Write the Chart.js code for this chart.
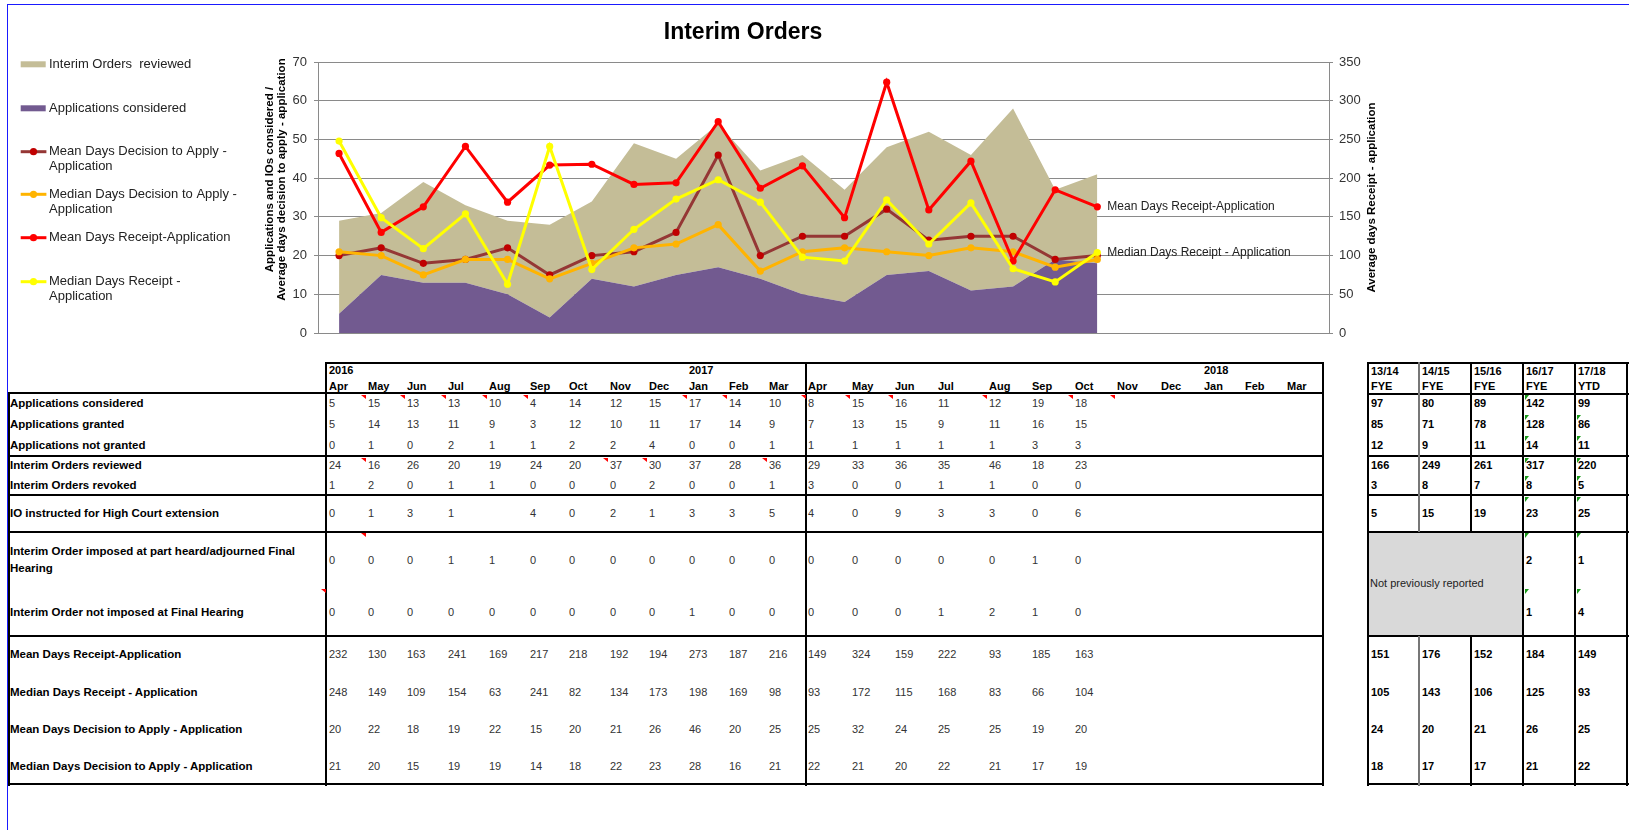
<!DOCTYPE html>
<html><head><meta charset="utf-8">
<script src="https://cdn.jsdelivr.net/npm/chart.js@4.4.1/dist/chart.umd.min.js"></script>
<style>
html,body{margin:0;padding:0;background:#fff;}
body{width:1629px;height:830px;position:relative;overflow:hidden;font-family:"Liberation Sans",Arial,sans-serif;}
#frameTop{position:absolute;left:7px;top:4px;width:1622px;height:1px;background:#1a1aff;}
#frameLeft{position:absolute;left:7px;top:4px;width:1px;height:826px;background:#1a1aff;}
#chartBox{position:absolute;left:8px;top:4px;width:1470px;height:345px;}
.t{position:absolute;font-size:11px;line-height:14px;white-space:nowrap;color:#333;}
.b{font-weight:bold;color:#000;}
.lab{font-size:11.5px;}
.ln{position:absolute;background:#000;}
.red{position:absolute;width:0;height:0;border-top:4px solid #ff0000;border-left:5px solid transparent;}
.grn{position:absolute;width:0;height:0;border-top:5px solid #1a9a1a;border-right:4px solid transparent;}
</style>
</head>
<body>
<div id="frameTop"></div><div id="frameLeft"></div>
<div id="chartBox"><canvas id="c" width="1470" height="345"></canvas></div>
<script>
// ---------- data ----------
const monthLabels = ['Apr','May','Jun','Jul','Aug','Sep','Oct','Nov','Dec','Jan','Feb','Mar','Apr','May','Jun','Jul','Aug','Sep','Oct','Nov','Dec','Jan','Feb','Mar'];
const yearLabels = ['2016','2017','2018'];
const yearStartIndex = [0, 9, 21];

const appsConsidered   = [5,15,13,13,10,4,14,12,15,17,14,10,8,15,16,11,12,19,18];
const appsGranted      = [5,14,13,11,9,3,12,10,11,17,14,9,7,13,15,9,11,16,15];
const appsNotGranted   = [0,1,0,2,1,1,2,2,4,0,0,1,1,1,1,1,1,3,3];
const ioReviewed       = [24,16,26,20,19,24,20,37,30,37,28,36,29,33,36,35,46,18,23];
const ioRevoked        = [1,2,0,1,1,0,0,0,2,0,0,1,3,0,0,1,1,0,0];
const ioHighCourt      = [0,1,3,1,null,4,0,2,1,3,3,5,4,0,9,3,3,0,6];
const ioImposedPartHeard = [0,0,0,1,1,0,0,0,0,0,0,0,0,0,0,0,0,1,0];
const ioNotImposedFinal  = [0,0,0,0,0,0,0,0,0,1,0,0,0,0,0,1,2,1,0];
const meanReceipt      = [232,130,163,241,169,217,218,192,194,273,187,216,149,324,159,222,93,185,163];
const medianReceipt    = [248,149,109,154,63,241,82,134,173,198,169,98,93,172,115,168,83,66,104];
const meanDecision     = [20,22,18,19,22,15,20,21,26,46,20,25,25,32,24,25,25,19,20];
const medianDecision   = [21,20,15,19,19,14,18,22,23,28,16,21,22,21,20,22,21,17,19];

const fyeHeaders = [['13/14','FYE'],['14/15','FYE'],['15/16','FYE'],['16/17','FYE'],['17/18','YTD']];
const fyeAppsConsidered = [97,80,89,142,99];
const fyeAppsGranted    = [85,71,78,128,86];
const fyeAppsNotGranted = [12,9,11,14,11];
const fyeReviewed       = [166,249,261,317,220];
const fyeRevoked        = [3,8,7,8,5];
const fyeHighCourt      = [5,15,19,23,25];
const fyeImposed        = [null,null,null,2,1];
const fyeNotImposed     = [null,null,null,1,4];
const fyeMeanReceipt    = [151,176,152,184,149];
const fyeMedianReceipt  = [105,143,106,125,93];
const fyeMeanDecision   = [24,20,21,26,25];
const fyeMedianDecision = [18,17,17,21,22];

const rowLabels = ['Applications considered','Applications granted','Applications not granted','Interim Orders  reviewed','Interim Orders revoked','IO instructed for High Court extension','Interim Order imposed at part heard/adjourned Final Hearing','Interim Order not imposed at Final Hearing','Mean Days Receipt-Application','Median Days Receipt - Application','Mean Days Decision to Apply - Application','Median Days Decision to Apply - Application'];
const rowMonthly = [appsConsidered,appsGranted,appsNotGranted,ioReviewed,ioRevoked,ioHighCourt,ioImposedPartHeard,ioNotImposedFinal,meanReceipt,medianReceipt,meanDecision,medianDecision];
const rowFye = [fyeAppsConsidered,fyeAppsGranted,fyeAppsNotGranted,fyeReviewed,fyeRevoked,fyeHighCourt,fyeImposed,fyeNotImposed,fyeMeanReceipt,fyeMedianReceipt,fyeMeanDecision,fyeMedianDecision];

const categories = monthLabels.map((m,i)=> m + ' ' + (i < 9 ? '2016' : (i < 21 ? '2017' : '2018')));

// ---------- chart ----------
const FONT = '"Liberation Sans", Arial, sans-serif';
const C_TAN='#C4BD97', C_PURPLE='#725A90', C_MEANDEC='#953735', C_MEANDEC_PT='#C00000', C_MEDDEC='#FFB400', C_MEANREC='#FF0000', C_MEDREC='#FFFF00';

function lineDs(label, data, axis, stack, color, ptColor){
  return {label, data, yAxisID:axis, stack, borderColor:color, backgroundColor:ptColor||color,
    pointBackgroundColor:ptColor||color, pointBorderColor:ptColor||color, pointBorderWidth:0,
    pointRadius:3.6, pointHoverRadius:3.6, borderWidth:3, tension:0, fill:false};
}
const datasets = [
  lineDs('Median Days Receipt - Application', medianReceipt, 'y2', 'r1', C_MEDREC),
  lineDs('Mean Days Receipt-Application', meanReceipt, 'y2', 'r2', C_MEANREC),
  lineDs('Median Days Decision to Apply - Application', medianDecision, 'y', 'd1', C_MEDDEC),
  lineDs('Mean Days Decision to Apply - Application', meanDecision, 'y', 'd2', C_MEANDEC, C_MEANDEC_PT),
  {label:'Applications considered', data:appsConsidered, yAxisID:'y', stack:'areas', fill:'origin',
   backgroundColor:C_PURPLE, borderColor:'rgba(0,0,0,0)', borderWidth:0, pointRadius:0, tension:0},
  {label:'Interim Orders  reviewed', data:ioReviewed, yAxisID:'y', stack:'areas', fill:'-1',
   backgroundColor:C_TAN, borderColor:'rgba(0,0,0,0)', borderWidth:0, pointRadius:0, tension:0}
];

const legendOrder = [5,4,3,2,1,0];
const legendLines = {5:['Interim Orders  reviewed'],4:['Applications considered'],3:['Mean Days Decision to Apply -','Application'],2:['Median Days Decision to Apply -','Application'],1:['Mean Days Receipt-Application'],0:['Median Days Receipt -','Application']};

const decorPlugin = {
  id:'decor',
  afterDatasetsDraw(chart){
    const ctx = chart.ctx;
    ctx.save();
    ctx.font = '12px ' + FONT; ctx.fillStyle = '#222'; ctx.textBaseline = 'middle'; ctx.textAlign='left';
    [1,0].forEach(di=>{
      const meta = chart.getDatasetMeta(di);
      const d = chart.data.datasets[di].data;
      let last = d.length-1; while(last>=0 && d[last]==null) last--;
      const pt = meta.data[last];
      ctx.fillText(chart.data.datasets[di].label, pt.x + 10, pt.y);
    });
    ctx.restore();
  },
  afterDraw(chart){
    const ctx = chart.ctx, ca = chart.chartArea;
    ctx.save();
    const ys = [60.3,104.3,147.7,190.3,233.7,277.7];
    ctx.textBaseline='middle'; ctx.textAlign='left';
    legendOrder.forEach((di,k)=>{
      const ds = chart.data.datasets[di]; const y = ys[k];
      if (ds.fill) { ctx.fillStyle = ds.backgroundColor; ctx.fillRect(12.7, y-3, 25, 6); }
      else {
        ctx.strokeStyle = ds.borderColor; ctx.lineWidth = 3; ctx.beginPath(); ctx.moveTo(12.7,y); ctx.lineTo(38.4,y); ctx.stroke();
        ctx.fillStyle = ds.pointBackgroundColor; ctx.beginPath(); ctx.arc(25.5,y,3.6,0,Math.PI*2); ctx.fill();
      }
      ctx.fillStyle='#222'; ctx.font='13px '+FONT;
      legendLines[di].forEach((t,j)=> ctx.fillText(t, 41, y + j*15));
    });
    ctx.font = 'bold 11.5px ' + FONT; ctx.fillStyle='#000'; ctx.textAlign='center';
    const midL = (ca.top+ca.bottom)/2 - 18;
    [['Applications and IOs considered /', ca.left-48.5],['Average days decision to apply - application', ca.left-36]].forEach(([t,x])=>{
      ctx.save(); ctx.translate(x, midL); ctx.rotate(-Math.PI/2); ctx.fillText(t,0,0); ctx.restore();
    });
    ctx.save(); ctx.translate(ca.right+43, (ca.top+ca.bottom)/2); ctx.rotate(-Math.PI/2); ctx.fillText('Average days Receipt - application',0,0); ctx.restore();
    ctx.restore();
  }
};

new Chart(document.getElementById('c'), {
  type:'line',
  data:{labels:categories, datasets},
  options:{
    responsive:false, animation:false, devicePixelRatio:1,
    layout:{padding:{left:0,right:0,top:0,bottom:16}},
    plugins:{
      legend:{display:false}, tooltip:{enabled:false},
      title:{display:true, text:'Interim Orders', color:'#000', font:{family:FONT,size:23,weight:'bold'}, padding:{top:15,bottom:15.5}}
    },
    scales:{
      x:{display:false, offset:true},
      y:{position:'left', stacked:true, min:0, max:70,
         ticks:{stepSize:10, color:'#333', font:{family:FONT,size:13}, padding:7},
         grid:{color:'#8a8a8a', tickLength:4, lineWidth:1}, border:{color:'#8a8a8a'},
         afterFit(s){ s.width = 310; }},
      y2:{position:'right', stacked:false, min:0, max:350,
         ticks:{stepSize:50, color:'#333', font:{family:FONT,size:13}, padding:6},
         grid:{drawOnChartArea:false, color:'#8a8a8a', tickLength:4}, border:{color:'#8a8a8a'},
         afterFit(s){ s.width = 149; }}
    }
  },
  plugins:[decorPlugin]
});

// ---------- tables ----------
const colX = [329,368,407,448,489,530,569,610,649,689,729,769,808,852,895,938,989,1032,1075,1117,1161,1204,1245,1287];
const rowY = [403.3,424,445,465,485,513.3,560,611.7,654.3,691.7,729,766];
const fyeX = [1371,1422,1474,1526,1578];
function txt(s, x, y, bold){
  const d=document.createElement('div'); d.className='t'+(bold?' b':''); d.textContent=s;
  d.style.left=x+'px'; d.style.top=(y-7)+'px'; document.body.appendChild(d); return d;
}
function hline(x1,x2,y,w,c){const d=document.createElement('div');d.className='ln';d.style.left=x1+'px';d.style.width=(x2-x1)+'px';d.style.top=(y-(w||2)/2)+'px';d.style.height=(w||2)+'px';if(c)d.style.background=c;document.body.appendChild(d);}
function vline(x,y1,y2,w,c){const d=document.createElement('div');d.className='ln';d.style.left=(x-(w||2)/2)+'px';d.style.width=(w||2)+'px';d.style.top=y1+'px';d.style.height=(y2-y1)+'px';if(c)d.style.background=c;document.body.appendChild(d);}

const g=document.createElement('div'); g.style.cssText='position:absolute;left:1369px;top:532.7px;width:153px;height:102px;background:#D9D9D9;'; document.body.appendChild(g);

yearLabels.forEach((y,k)=> txt(y, colX[yearStartIndex[k]], 370, true));
monthLabels.forEach((m,i)=> txt(m, colX[i], 386, true));
fyeHeaders.forEach((h,k)=>{ txt(h[0], fyeX[k], 370.7, true); txt(h[1], fyeX[k], 386, true); });

rowLabels.forEach((lab,r)=>{
  let d;
  if (r===6){
    d=txt(lab, 10, rowY[r], true); d.style.whiteSpace='normal'; d.style.width='305px'; d.style.lineHeight='16.6px'; d.style.top=(rowY[r]-16.6)+'px';
  } else d=txt(lab, 10, rowY[r], true);
  d.classList.add('lab');
  rowMonthly[r].forEach((v,i)=>{ if(v!==null && v!==undefined) txt(String(v), colX[i], rowY[r], false); });
  rowFye[r].forEach((v,k)=>{ if(v!==null) txt(String(v), fyeX[k], rowY[r], true); });
});
txt('Not previously reported', 1370, 582.7, false).style.color='#222';

[[326,362.7],[8,393.3],[8,456],[8,495],[8,531.7],[8,635.7],[8,784]].forEach(([x1,y])=>hline(x1,1324,y));
vline(326,362,786); vline(806,362,786); vline(1323,362,786); vline(9,392.5,786);
[362.7,394,456,495,531.7,635.7,784].forEach(y=>hline(1367,1629,y));
[1368,1523,1575,1627].forEach(x=>vline(x,362,786));
[1419,1471].forEach(x=>{ vline(x,362,531.7,2,x===1419?'#777':'#000'); vline(x,635.7,786,2,x===1419?'#777':'#000'); });

const rowTop = [395,415,436,457.5,476,496.5,533,589];
function red(xr, yt){ const d=document.createElement('div'); d.className='red'; d.style.left=(xr-5)+'px'; d.style.top=yt+'px'; document.body.appendChild(d); }
[1,2,3,4,5,9,10,12,13,14,16,18,19].forEach(i=> red(colX[i]-2, rowTop[0]));
[1,7,8,11].forEach(i=> red(colX[i]-2, rowTop[3]));
red(colX[1]-2, rowTop[6]);
red(colX[0]-3, rowTop[7]);
function grn(xl, yt){ const d=document.createElement('div'); d.className='grn'; d.style.left=xl+'px'; d.style.top=yt+'px'; document.body.appendChild(d); }
rowTop.forEach((t,j)=>{ grn(1524.5, t); if (j>0) grn(1576.5, t); });
</script>
</body></html>
